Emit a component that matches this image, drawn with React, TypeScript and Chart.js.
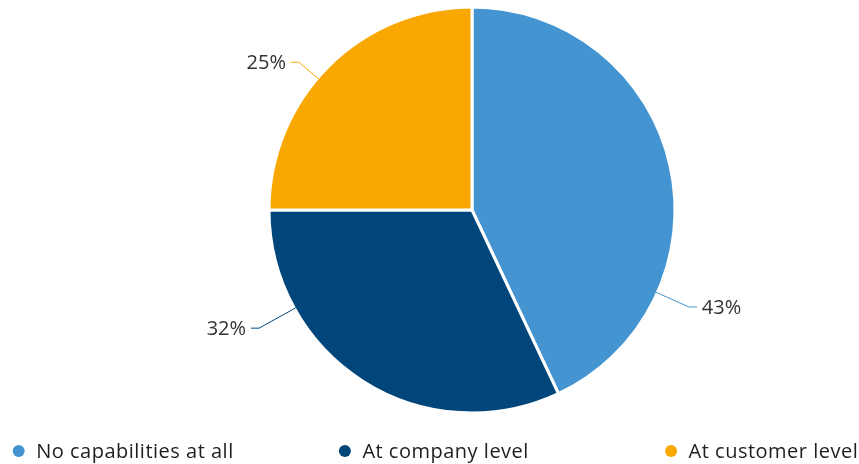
import React, { useEffect, useRef } from 'react';
import { Chart, ArcElement, PieController } from 'chart.js';

Chart.register(ArcElement, PieController);

const categories = ['No capabilities at all', 'At company level', 'At customer level'];
const values = [43, 32, 25];
const colors = ['#4394d0', '#00467a', '#f8a800'];

const FONT = '"Open Sans", Roboto, sans-serif';

const calloutPlugin = {
  id: 'callouts',
  afterDatasetsDraw(chart: any, _args: any, opts: any) {
    const ctx = chart.ctx;
    const meta = chart.getDatasetMeta(0);
    const ds = chart.data.datasets[0];
    ctx.save();
    meta.data.forEach((arc: any, i: number) => {
      const { x, y, startAngle, endAngle, outerRadius } = arc.getProps(
        ['x', 'y', 'startAngle', 'endAngle', 'outerRadius'],
        true
      );
      const a = startAngle + opts.anchorFrac[i] * (endAngle - startAngle);
      const R = outerRadius - 1.5;
      const len = opts.radialLen[i];
      const px = x + R * Math.cos(a);
      const py = y + R * Math.sin(a);
      const ex = x + (R + len) * Math.cos(a);
      const ey = y + (R + len) * Math.sin(a);
      const dir = Math.cos(a) >= 0 ? 1 : -1;
      const hx = ex + dir * opts.elbow;
      ctx.strokeStyle = ds.backgroundColor[i];
      ctx.lineWidth = 1;
      ctx.beginPath();
      ctx.moveTo(px, py);
      ctx.lineTo(ex, ey);
      ctx.lineTo(hx, ey);
      ctx.stroke();
      ctx.fillStyle = '#333333';
      ctx.font = `20px ${FONT}`;
      ctx.textAlign = dir > 0 ? 'left' : 'right';
      ctx.textBaseline = 'middle';
      ctx.fillText(`${ds.data[i]}%`, hx + dir * opts.gap, ey + 1);
    });
    ctx.restore();
  },
};

const legendPlugin = {
  id: 'bottomLegend',
  afterDraw(chart: any, _args: any, opts: any) {
    const ctx = chart.ctx;
    const ds = chart.data.datasets[0];
    ctx.save();
    chart.data.labels.forEach((label: string, i: number) => {
      const x0 = opts.startX + i * opts.itemWidth;
      ctx.fillStyle = ds.backgroundColor[i];
      ctx.beginPath();
      ctx.arc(x0 + 6, opts.y, 6, 0, Math.PI * 2);
      ctx.fill();
      ctx.fillStyle = '#1e1e1e';
      ctx.font = `20px ${FONT}`;
      (ctx as any).letterSpacing = '0.5px';
      ctx.textAlign = 'left';
      ctx.textBaseline = 'middle';
      ctx.fillText(label, x0 + 23.5, opts.y + 1);
      (ctx as any).letterSpacing = '0px';
    });
    ctx.restore();
  },
};

export default function App() {
  const ref = useRef<HTMLCanvasElement | null>(null);
  useEffect(() => {
    if (!ref.current) return;
    const chart = new Chart(ref.current, {
      type: 'pie',
      data: {
        labels: categories,
        datasets: [
          {
            data: values,
            backgroundColor: colors,
            borderColor: '#ffffff',
            borderWidth: 3,
            radius: 203,
          } as any,
        ],
      },
      options: {
        responsive: false,
        animation: false,
        layout: { padding: { top: 0, bottom: 44, left: 85, right: 0 } },
        plugins: {
          legend: { display: false },
          tooltip: { enabled: false },
          callouts: {
            anchorFrac: [0.737, 0.748, 0.45],
            radialLen: [36, 42, 26],
            elbow: 8,
            gap: 5,
          },
          bottomLegend: { startX: 12.7, itemWidth: 326.2, y: 451 },
        } as any,
      },
      plugins: [calloutPlugin, legendPlugin],
    });
    return () => chart.destroy();
  }, []);
  return (
    <div style={{ position: 'fixed', left: 0, top: 0, width: 859, height: 464, background: '#fff' }}>
      <canvas ref={ref} width={859} height={464} style={{ display: 'block' }} />
    </div>
  );
}
